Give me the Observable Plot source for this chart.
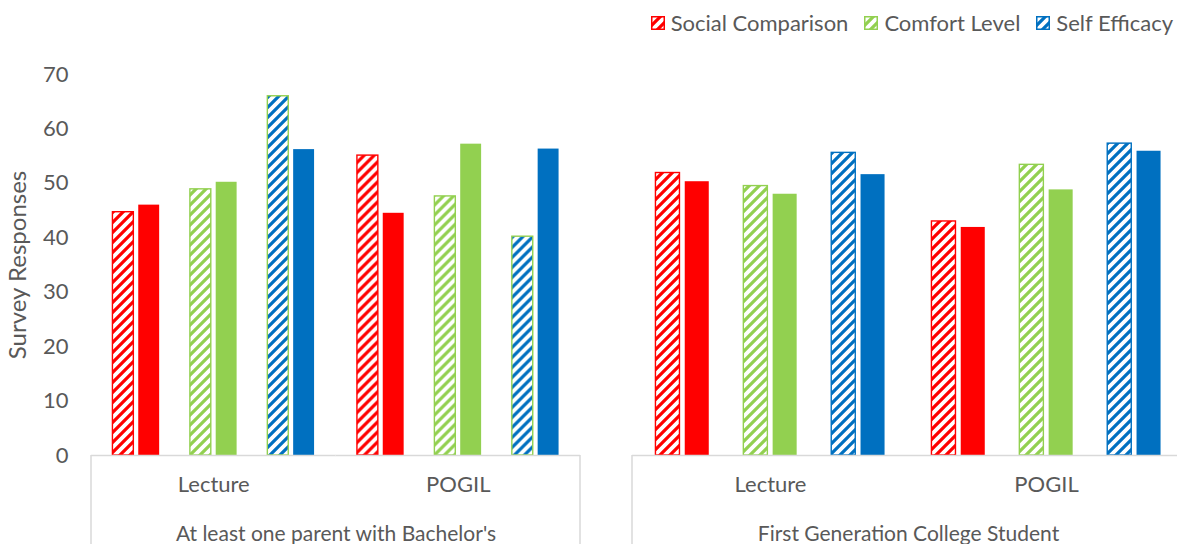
<!DOCTYPE html>
<html><head><meta charset="utf-8">
<script src="https://cdn.jsdelivr.net/npm/d3@7"></script>
<script src="https://cdn.jsdelivr.net/npm/@observablehq/plot@0.6"></script>
<style>
html,body{margin:0;padding:0;background:#fff;overflow:hidden;width:1177px;height:544px;}
body{font-family:Lato,"Open Sans",sans-serif;color:#595959;}
#legend{height:45px;display:flex;justify-content:flex-end;align-items:center;padding-right:4px;font-size:22px;box-sizing:border-box;width:1177px;}
.item{display:flex;align-items:center;margin-left:16px;}
.item svg{margin-right:6px;}
#charts{display:flex;width:1200px;}
g[aria-label="fx-axis label"] text{font-size:21px;}
g[aria-label="y-axis label"] text{font-size:24px;}
</style></head><body>
<svg width="0" height="0" style="position:absolute"><defs id="defs"></defs></svg>
<div id="legend"></div>
<div id="charts"></div>
<script>
// ---- data ----
const groups = ["At least one parent with Bachelor's", "First Generation College Student"];
const methods = ["Lecture", "POGIL"];
const measures = ["Social Comparison", "Comfort Level", "Self Efficacy"];
const phases = ["Pre", "Post"]; // hatched = Pre, solid = Post
// order: Lecture (SC, CL, SE), POGIL (SC, CL, SE)
const bachelorPre  = [44.7, 48.9, 66.0, 55.1, 47.6, 40.2];
const bachelorPost = [46.0, 50.2, 56.2, 44.5, 57.2, 56.3];
const firstGenPre  = [51.9, 49.5, 55.6, 43.0, 53.4, 57.3];
const firstGenPost = [50.3, 48.0, 51.6, 41.9, 48.8, 55.9];
const yTicks = [0, 10, 20, 30, 40, 50, 60, 70];

// ---- styles ----
const colors = {"Social Comparison": "#FF0000", "Comfort Level": "#92D050", "Self Efficacy": "#0070C0"};
const patternId = {"Social Comparison": "hatch-red", "Comfort Level": "hatch-green", "Self Efficacy": "hatch-blue"};
// in the first group the hatched Self Efficacy bars have a green outline
const outlineOverride = {0: {"Self Efficacy": "#92D050"}};

// patterns
const defs = d3.select("#defs");
for (const m of measures) {
  const p = defs.append("pattern").attr("id", patternId[m]).attr("patternUnits", "userSpaceOnUse")
    .attr("width", 10).attr("height", 10);
  p.append("rect").attr("width", 10).attr("height", 10).attr("fill", "#fff");
  p.append("path").attr("d", "M-2,2 L2,-2 M0,10 L10,0 M8,12 L12,8")
    .attr("stroke", colors[m]).attr("stroke-width", 3.2).attr("stroke-linecap", "square");
}

// legend
const legend = d3.select("#legend");
for (const m of measures) {
  const it = legend.append("div").attr("class", "item");
  const s = it.append("svg").attr("width", 14).attr("height", 14);
  s.append("rect").attr("x", 0.75).attr("y", 0.75).attr("width", 12.5).attr("height", 12.5)
    .attr("fill", `url(#${patternId[m]})`).attr("stroke", colors[m]).attr("stroke-width", 1.5);
  it.append("span").text(m);
}

const slots = measures.flatMap((m, i) => i < measures.length - 1
  ? [m + "|Pre", m + "|Post", m + "|gap"] : [m + "|Pre", m + "|Post"]);

const valuesByGroup = [[bachelorPre, bachelorPost], [firstGenPre, firstGenPost]];

function chart(gi, cfg) {
  const data = [];
  methods.forEach((me, mi) => measures.forEach((ms, si) => phases.forEach((ph, pi) => {
    data.push({group: groups[gi], method: me, measure: ms, phase: ph, slot: ms + "|" + ph,
      value: valuesByGroup[gi][pi][mi * measures.length + si]});
  })));
  const height = 499;
  const plot = Plot.plot({
    width: cfg.width, height,
    marginTop: 29, marginBottom: 89, marginLeft: cfg.marginLeft, marginRight: cfg.marginRight,
    style: {fontFamily: "Lato, 'Open Sans', sans-serif", fontSize: "22px", color: "#595959", background: "transparent", overflow: "visible"},
    y: {domain: [0, 70], axis: gi === 0 ? undefined : null},
    x: {domain: slots, paddingInner: cfg.pin, paddingOuter: cfg.pout, round: false, axis: null},
    fx: {domain: methods, padding: 0, round: false},
    color: {type: "identity"},
    marks: [
      gi === 0 ? Plot.axisY(yTicks, {tickSize: 0, tickPadding: 23, label: "Survey Responses", labelArrow: false, labelAnchor: "center", labelOffset: 83}) : null,
      Plot.axisFx({anchor: "bottom", tickSize: 0, tickPadding: 21, label: groups[gi], labelAnchor: "center", labelOffset: 85}),
      Plot.barY(data, {
        fx: "method", x: "slot", y: "value",
        fill: d => d.phase === "Pre" ? `url(#${patternId[d.measure]})` : colors[d.measure],
        stroke: d => d.phase === "Pre" ? ((outlineOverride[gi] || {})[d.measure] || colors[d.measure]) : "none",
        strokeWidth: 1.4
      }),
      Plot.ruleY([0], {stroke: "#d9d9d9", strokeWidth: 1.5})
    ]
  });
  // category-box edge lines (decoration)
  const svg = d3.select(plot);
  const x0 = cfg.marginLeft, x1 = cfg.width - cfg.marginRight, yb = height - 89;
  for (const xx of [x0, x1]) {
    svg.append("line").attr("x1", xx).attr("x2", xx).attr("y1", yb).attr("y2", height)
      .attr("stroke", "#d9d9d9").attr("stroke-width", 1.5);
  }
  return plot;
}

const host = document.getElementById("charts");
host.append(chart(0, {width: 600, marginLeft: 91, marginRight: 20, pin: 0.19, pout: 0.83}));
host.append(chart(1, {width: 600, marginLeft: 32, marginRight: 16, pin: 0.18, pout: 0.80}));
</script>
</body></html>
